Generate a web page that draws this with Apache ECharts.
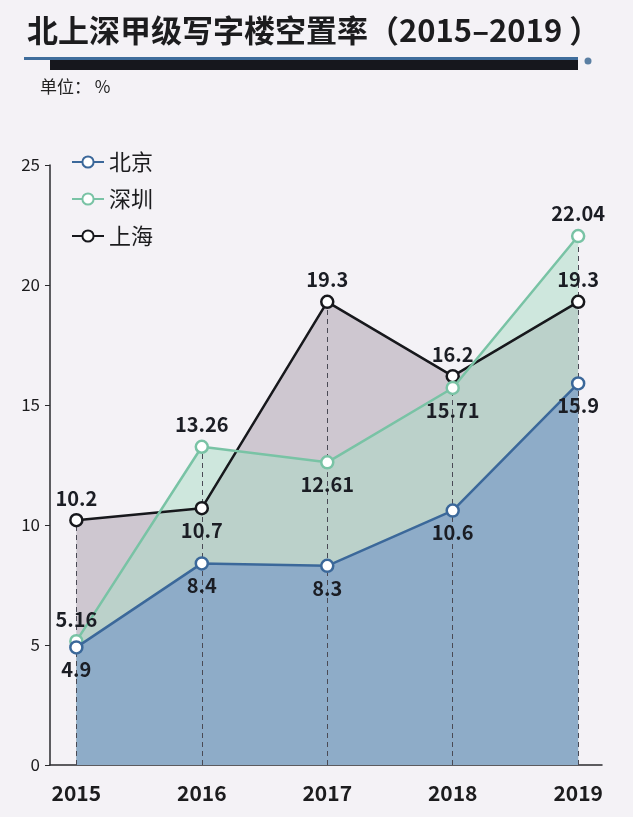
<!DOCTYPE html>
<html>
<head>
<meta charset="utf-8">
<script src="https://cdn.jsdelivr.net/npm/echarts@6/dist/echarts.min.js"></script>
<style>
  html, body { margin: 0; padding: 0; background: #f4f2f6; }
  #main { width: 633px; height: 817px; }
</style>
</head>
<body>
<div id="main"></div>
<script>
// 数据
const years = [2015, 2016, 2017, 2018, 2019];
const beijing = [4.9, 8.4, 8.3, 10.6, 15.9];
const shenzhen = [5.16, 13.26, 12.61, 15.71, 22.04];
const shanghai = [10.2, 10.7, 19.3, 16.2, 19.3];
const yTicks = [0, 5, 10, 15, 20, 25];

// 标签位置（上/下）
const bjSide = ['bottom', 'bottom', 'bottom', 'bottom', 'bottom'];
const szSide = ['top', 'top', 'bottom', 'bottom', 'top'];
const shSide = ['top', 'bottom', 'top', 'top', 'top'];

const FONT = '"Noto Sans CJK SC", "Noto Sans", sans-serif';

function pts(vals, sides) {
    return vals.map((v, i) => ({
        value: [years[i], v],
        label: sides ? { position: sides[i] } : undefined
    }));
}

// 每年的虚线（到三条线中最高点）
const dropLines = years.map((y, i) => [
    { coord: [y, 0] },
    { coord: [y, Math.max(beijing[i], shenzhen[i], shanghai[i])] }
]);

// 面积（放在下层）
function areaSeries(name, vals, areaColor, z) {
    return {
        name: name,
        type: 'line',
        data: pts(vals),
        z: z,
        symbol: 'none',
        lineStyle: { width: 0 },
        areaStyle: { color: areaColor, opacity: 1 },
        silent: true
    };
}

// 折线 + 标签（放在上层）
function lineSeries(name, vals, sides, lineColor, z) {
    return {
        name: name,
        type: 'line',
        data: pts(vals, sides),
        z: z,
        symbol: 'circle',
        symbolSize: 12,
        itemStyle: { color: '#fff', borderColor: lineColor, borderWidth: 2.5 },
        lineStyle: { color: lineColor, width: 2.5 },
        label: {
            show: true,
            fontFamily: FONT,
            fontSize: 20,
            fontWeight: 'bold',
            color: '#1b1d24',
            distance: 5,
            formatter: p => p.value[1]
        }
    };
}

var chart = echarts.init(document.getElementById('main'));
chart.setOption({
    backgroundColor: '#f4f2f6',
    animation: false,
    title: {
        text: '北上深甲级写字楼空置率（2015–2019 ）',
        left: 22,
        top: 10,
        textStyle: { fontFamily: FONT, fontSize: 31, fontWeight: 'bold', color: '#1c1c1e' }
    },
    graphic: [
        { type: 'rect', shape: { x: 50, y: 60, width: 528, height: 10 }, style: { fill: '#16171d' } },
        { type: 'rect', shape: { x: 24, y: 57, width: 554, height: 3 }, style: { fill: '#3f6d9c' } },
        { type: 'circle', shape: { cx: 588, cy: 61, r: 3.5 }, style: { fill: '#5a7fa3' } },
        { type: 'text', left: 40, top: 78, style: { text: '单位： %', font: '17px ' + FONT, fill: '#222' } }
    ],
    legend: {
        orient: 'vertical',
        left: 66,
        top: 146,
        itemGap: 15,
        itemWidth: 32,
        itemHeight: 14,
        data: ['北京', '深圳', '上海'],
        textStyle: { fontFamily: FONT, fontSize: 22, color: '#1c1c1e' }
    },
    grid: { left: 50, right: 31, top: 165, bottom: 52 },
    xAxis: {
        type: 'value',
        min: 2014.79,
        max: 2019.19,
        splitLine: { show: false },
        axisLine: { lineStyle: { color: '#2a2a2e', width: 1.5 } },
        axisTick: { show: false },
        axisLabel: {
            customValues: years,
            formatter: v => String(v),
            fontFamily: FONT,
            fontSize: 21,
            fontWeight: 'bold',
            color: '#1c1c1e',
            margin: 18
        }
    },
    yAxis: {
        type: 'value',
        min: 0,
        max: 25,
        interval: 5,
        splitLine: { show: false },
        axisLine: { show: true, lineStyle: { color: '#2a2a2e', width: 1.5 } },
        axisTick: { show: true, length: 5, lineStyle: { color: '#2a2a2e' } },
        axisLabel: {
            customValues: yTicks,
            fontFamily: FONT,
            fontSize: 17,
            color: '#1c1c1e',
            margin: 10
        }
    },
    series: [
        Object.assign(areaSeries('上海面积', shanghai, '#cec7d0', 1), {
            markLine: {
                silent: true,
                symbol: 'none',
                label: { show: false },
                lineStyle: { color: '#4a4a55', type: [5, 4], width: 1 },
                data: dropLines
            }
        }),
        areaSeries('深圳面积', shenzhen, 'rgba(168,220,196,0.5)', 2),
        areaSeries('北京面积', beijing, '#8eacc8', 3),
        lineSeries('上海', shanghai, shSide, '#17181c', 5),
        lineSeries('深圳', shenzhen, szSide, '#79c3a5', 6),
        lineSeries('北京', beijing, bjSide, '#3b689a', 7)
    ]
});
</script>
</body>
</html>
